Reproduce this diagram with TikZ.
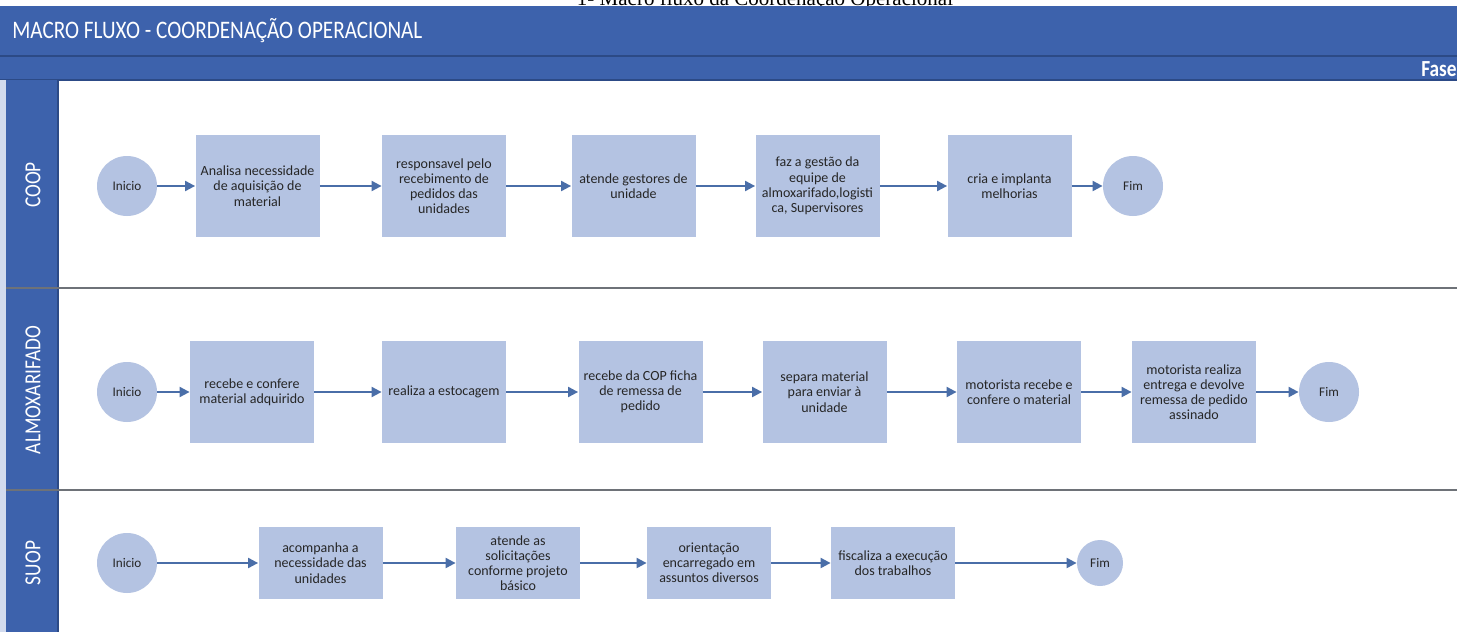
\documentclass[tikz,border=0pt]{standalone}
\usepackage{fontspec}
\setmainfont{Carlito}
\newfontfamily\capfont{Liberation Serif}
\newfontfamily\condfont[FakeStretch=0.84]{Carlito}
\usetikzlibrary{arrows.meta}
\definecolor{hdr}{HTML}{3D62AC}
\definecolor{hdrline}{HTML}{2C4A86}
\definecolor{boxfill}{HTML}{B4C3E2}
\definecolor{arr}{HTML}{4A6EA8}
\definecolor{sep}{HTML}{6E7278}
\definecolor{txt}{HTML}{262626}
\tikzset{
  proc/.style={fill=boxfill, draw=none, minimum width=62pt, minimum height=51pt,
    align=center, text=txt, inner sep=1pt, font=\fontsize{7}{7.6}\selectfont},
  procs/.style={proc, minimum height=36pt},
  term/.style={circle, fill=boxfill, draw=none, minimum size=30pt, inner sep=0pt,
    text=txt, font=\fontsize{6.6}{7}\selectfont},
  flow/.style={draw=arr, line width=1pt, -{Triangle[length=5pt,width=5pt]}},
  lane/.style={text=white, rotate=90, font=\condfont\fontsize{11.5}{13}\selectfont},
}
\begin{document}
\begin{tikzpicture}[x=0.5pt,y=-0.5pt]
\useasboundingbox (0,0) rectangle (1457,632);
\fill[white] (0,0) rectangle (1457,632);
% caption (clipped at page top, as in the reference)
\node[anchor=base, font=\capfont\fontsize{10.5}{12}\selectfont, inner sep=0pt] (cap) at (765,5) {1- Macro fluxo da Coordenação Operacional};
% header bars
\fill[hdr] (0,6) rectangle (1457,80);
\draw[hdrline, line width=1pt] (0,55.5) -- (1457,55.5);
\draw[hdrline, line width=1pt] (0,80) -- (1457,80);
\node[anchor=west, text=white, font=\condfont\fontsize{12.6}{14}\selectfont, inner sep=0pt] (title) at (12,31) {MACRO FLUXO - COORDENAÇÃO OPERACIONAL};
\node[anchor=east, text=white, font=\condfont\bfseries\fontsize{11.5}{13}\selectfont, inner sep=0pt] (fase) at (1457,69) {Fase};
% lane column
\fill[boxfill!60] (0,80) rectangle (6,632);
\fill[hdr] (6,80) rectangle (58,632);
\draw[hdrline, line width=0.6pt] (58,80) -- (58,632);
% lane separators
\draw[sep, line width=1pt] (6,288) -- (1457,288);
\draw[sep, line width=1pt] (6,490) -- (1457,490);
\node[lane] (l1) at (33,185) {COOP};
\node[lane] (l2) at (33,390) {ALMOXARIFADO};
\node[lane] (l3) at (33,563) {SUOP};

% COOP lane
\node[term] (c0) at (127,186) {Inicio};
\node[proc] (c1) at (257.5,186) {Analisa necessidade\\de aquisição de\\material};
\node[proc] (c2) at (444,186) {responsavel pelo\\recebimento de\\pedidos das\\unidades};
\node[proc] (c3) at (633.5,186) {atende gestores de\\unidade};
\node[proc] (c4) at (817.5,186) {faz a gestão da\\equipe de\\almoxarifado,logisti\\ca, Supervisores};
\node[proc] (c5) at (1009.5,186) {cria e implanta\\melhorias};
\node[term] (c6) at (1133,186) {Fim};
\foreach \a/\b in {c0/c1,c1/c2,c2/c3,c3/c4,c4/c5,c5/c6} \draw[flow] (\a) -- (\b);

% ALMOXARIFADO lane
\node[term] (a0) at (127,392) {Inicio};
\node[proc] (a1) at (252,392) {recebe e confere\\material adquirido};
\node[proc] (a2) at (444,392) {realiza a estocagem};
\node[proc] (a3) at (640.5,392) {recebe da COP ficha\\de remessa de\\pedido};
\node[proc] (a4) at (824.5,392) {separa material\\para enviar à\\unidade};
\node[proc] (a5) at (1019,392) {motorista recebe e\\confere o material};
\node[proc] (a6) at (1194,392) {motorista realiza\\entrega e devolve\\remessa de pedido\\assinado};
\node[term] (a7) at (1329,392) {Fim};
\foreach \a/\b in {a0/a1,a1/a2,a2/a3,a3/a4,a4/a5,a5/a6,a6/a7} \draw[flow] (\a) -- (\b);

% SUOP lane
\node[term] (s0) at (127,563) {Inicio};
\node[procs] (s1) at (320.5,563) {acompanha a\\necessidade das\\unidades};
\node[procs] (s2) at (518,563) {atende as\\solicitações\\conforme projeto\\básico};
\node[procs] (s3) at (709,563) {orientação\\encarregado em\\assuntos diversos};
\node[procs] (s4) at (893,563) {fiscaliza a execução\\dos trabalhos};
\node[term, minimum size=23pt] (s5) at (1100,563) {Fim};
\foreach \a/\b in {s0/s1,s1/s2,s2/s3,s3/s4,s4/s5} \draw[flow] (\a) -- (\b);
\end{tikzpicture}
\end{document}
